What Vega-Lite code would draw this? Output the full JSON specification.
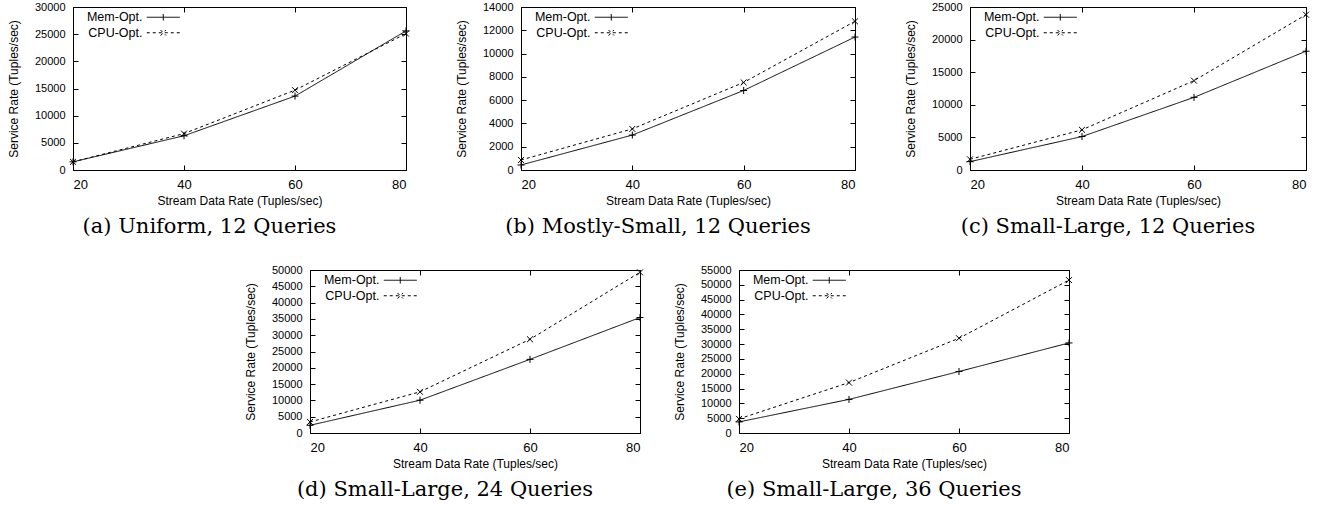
{
  "$schema": "https://vega.github.io/schema/vega-lite/v6.json",
  "padding": {"left": 6, "top": 0, "right": 0, "bottom": 0},
  "background": "white",
  "data": {"values": [
    {"panel": "a", "series": "Mem-Opt.", "rate": 20, "value": 1500},
    {"panel": "a", "series": "Mem-Opt.", "rate": 40, "value": 6300},
    {"panel": "a", "series": "Mem-Opt.", "rate": 60, "value": 13600},
    {"panel": "a", "series": "Mem-Opt.", "rate": 80, "value": 25600},
    {"panel": "a", "series": "CPU-Opt.", "rate": 20, "value": 1500},
    {"panel": "a", "series": "CPU-Opt.", "rate": 40, "value": 6700},
    {"panel": "a", "series": "CPU-Opt.", "rate": 60, "value": 14700},
    {"panel": "a", "series": "CPU-Opt.", "rate": 80, "value": 25100},
    {"panel": "b", "series": "Mem-Opt.", "rate": 20, "value": 430},
    {"panel": "b", "series": "Mem-Opt.", "rate": 40, "value": 3000},
    {"panel": "b", "series": "Mem-Opt.", "rate": 60, "value": 6830},
    {"panel": "b", "series": "Mem-Opt.", "rate": 80, "value": 11420},
    {"panel": "b", "series": "CPU-Opt.", "rate": 20, "value": 860},
    {"panel": "b", "series": "CPU-Opt.", "rate": 40, "value": 3530},
    {"panel": "b", "series": "CPU-Opt.", "rate": 60, "value": 7520},
    {"panel": "b", "series": "CPU-Opt.", "rate": 80, "value": 12770},
    {"panel": "c", "series": "Mem-Opt.", "rate": 20, "value": 1280},
    {"panel": "c", "series": "Mem-Opt.", "rate": 40, "value": 5130},
    {"panel": "c", "series": "Mem-Opt.", "rate": 60, "value": 11140},
    {"panel": "c", "series": "Mem-Opt.", "rate": 80, "value": 18220},
    {"panel": "c", "series": "CPU-Opt.", "rate": 20, "value": 1640},
    {"panel": "c", "series": "CPU-Opt.", "rate": 40, "value": 6160},
    {"panel": "c", "series": "CPU-Opt.", "rate": 60, "value": 13700},
    {"panel": "c", "series": "CPU-Opt.", "rate": 80, "value": 23820},
    {"panel": "d", "series": "Mem-Opt.", "rate": 20, "value": 2360},
    {"panel": "d", "series": "Mem-Opt.", "rate": 40, "value": 10060},
    {"panel": "d", "series": "Mem-Opt.", "rate": 60, "value": 22590},
    {"panel": "d", "series": "Mem-Opt.", "rate": 80, "value": 35420},
    {"panel": "d", "series": "CPU-Opt.", "rate": 20, "value": 3390},
    {"panel": "d", "series": "CPU-Opt.", "rate": 40, "value": 12630},
    {"panel": "d", "series": "CPU-Opt.", "rate": 60, "value": 28750},
    {"panel": "d", "series": "CPU-Opt.", "rate": 80, "value": 49280},
    {"panel": "e", "series": "Mem-Opt.", "rate": 20, "value": 3740},
    {"panel": "e", "series": "Mem-Opt.", "rate": 40, "value": 11340},
    {"panel": "e", "series": "Mem-Opt.", "rate": 60, "value": 20750},
    {"panel": "e", "series": "Mem-Opt.", "rate": 80, "value": 30390},
    {"panel": "e", "series": "CPU-Opt.", "rate": 20, "value": 4760},
    {"panel": "e", "series": "CPU-Opt.", "rate": 40, "value": 17010},
    {"panel": "e", "series": "CPU-Opt.", "rate": 60, "value": 31980},
    {"panel": "e", "series": "CPU-Opt.", "rate": 80, "value": 51600}
  ]},
  "vconcat": [
    {
      "hconcat": [
        {
          "width": 333, "height": 163,
          "title": {"text": "(a) Uniform, 12 Queries"},
          "transform": [{"filter": "datum.panel === 'a'"}],
          "layer": [
            {"mark": {"type": "line", "color": "black", "strokeWidth": 1},
             "encoding": {
               "x": {"field": "rate", "type": "quantitative", "scale": {"domain": [20, 80], "nice": false, "zero": false}, "axis": {"values": [20, 40, 60, 80], "title": "Stream Data Rate (Tuples/sec)"}},
               "y": {"field": "value", "type": "quantitative", "scale": {"domain": [0, 30000], "nice": false}, "axis": {"values": [0, 5000, 10000, 15000, 20000, 25000, 30000], "title": "Service Rate (Tuples/sec)", "orient": "left"}},
               "strokeDash": {"field": "series", "type": "nominal", "scale": {"domain": ["Mem-Opt.", "CPU-Opt."], "range": [[1, 0], [3, 3]]},
                 "legend": {"encode": {"symbols": {"update": {"shape": [{"test": "datum.value === 'Mem-Opt.'", "value": "M-3,0H3M0,-0.6V0.6"}, {"value": "M-3,0H3M-0.5,-0.5L0.5,0.5M-0.5,0.5L0.5,-0.5"}]}}}}}
             }},
            {"transform": [{"filter": "datum.series === 'Mem-Opt.'"}],
             "mark": {"type": "point", "filled": false, "stroke": "black", "strokeWidth": 1, "size": 49, "opacity": 1, "shape": "M-1,0H1M0,-1V1"},
             "encoding": {
               "x": {"field": "rate", "type": "quantitative", "axis": null},
               "y": {"field": "value", "type": "quantitative", "axis": null}
             }},
            {"transform": [{"filter": "datum.series === 'CPU-Opt.'"}],
             "mark": {"type": "point", "filled": false, "stroke": "black", "strokeWidth": 1, "size": 49, "opacity": 1, "shape": "M-0.85,-0.85L0.85,0.85M-0.85,0.85L0.85,-0.85"},
             "encoding": {
               "x": {"field": "rate", "type": "quantitative", "axis": null},
               "y": {"field": "value", "type": "quantitative", "axis": null}
             }},
            {"mark": {"type": "point", "opacity": 0},
             "encoding": {
               "x": {"field": "rate", "type": "quantitative", "axis": {"orient": "top", "values": [20, 40, 60, 80], "labels": false, "title": null}},
               "y": {"field": "value", "type": "quantitative", "axis": {"orient": "right", "values": [0, 5000, 10000, 15000, 20000, 25000, 30000], "labels": false, "title": null}}
             }}
          ],
          "resolve": {"axis": {"x": "independent", "y": "independent"}}
        },
        {
          "width": 334, "height": 163,
          "title": {"text": "(b) Mostly-Small, 12 Queries"},
          "transform": [{"filter": "datum.panel === 'b'"}],
          "layer": [
            {"mark": {"type": "line", "color": "black", "strokeWidth": 1},
             "encoding": {
               "x": {"field": "rate", "type": "quantitative", "scale": {"domain": [20, 80], "nice": false, "zero": false}, "axis": {"values": [20, 40, 60, 80], "title": "Stream Data Rate (Tuples/sec)"}},
               "y": {"field": "value", "type": "quantitative", "scale": {"domain": [0, 14000], "nice": false}, "axis": {"values": [0, 2000, 4000, 6000, 8000, 10000, 12000, 14000], "title": "Service Rate (Tuples/sec)", "orient": "left"}},
               "strokeDash": {"field": "series", "type": "nominal", "scale": {"domain": ["Mem-Opt.", "CPU-Opt."], "range": [[1, 0], [3, 3]]},
                 "legend": {"encode": {"symbols": {"update": {"shape": [{"test": "datum.value === 'Mem-Opt.'", "value": "M-3,0H3M0,-0.6V0.6"}, {"value": "M-3,0H3M-0.5,-0.5L0.5,0.5M-0.5,0.5L0.5,-0.5"}]}}}}}
             }},
            {"transform": [{"filter": "datum.series === 'Mem-Opt.'"}],
             "mark": {"type": "point", "filled": false, "stroke": "black", "strokeWidth": 1, "size": 49, "opacity": 1, "shape": "M-1,0H1M0,-1V1"},
             "encoding": {
               "x": {"field": "rate", "type": "quantitative", "axis": null},
               "y": {"field": "value", "type": "quantitative", "axis": null}
             }},
            {"transform": [{"filter": "datum.series === 'CPU-Opt.'"}],
             "mark": {"type": "point", "filled": false, "stroke": "black", "strokeWidth": 1, "size": 49, "opacity": 1, "shape": "M-0.85,-0.85L0.85,0.85M-0.85,0.85L0.85,-0.85"},
             "encoding": {
               "x": {"field": "rate", "type": "quantitative", "axis": null},
               "y": {"field": "value", "type": "quantitative", "axis": null}
             }},
            {"mark": {"type": "point", "opacity": 0},
             "encoding": {
               "x": {"field": "rate", "type": "quantitative", "axis": {"orient": "top", "values": [20, 40, 60, 80], "labels": false, "title": null}},
               "y": {"field": "value", "type": "quantitative", "axis": {"orient": "right", "values": [0, 2000, 4000, 6000, 8000, 10000, 12000, 14000], "labels": false, "title": null}}
             }}
          ],
          "resolve": {"axis": {"x": "independent", "y": "independent"}}
        },
        {
          "width": 336, "height": 163,
          "title": {"text": "(c) Small-Large, 12 Queries"},
          "transform": [{"filter": "datum.panel === 'c'"}],
          "layer": [
            {"mark": {"type": "line", "color": "black", "strokeWidth": 1},
             "encoding": {
               "x": {"field": "rate", "type": "quantitative", "scale": {"domain": [20, 80], "nice": false, "zero": false}, "axis": {"values": [20, 40, 60, 80], "title": "Stream Data Rate (Tuples/sec)"}},
               "y": {"field": "value", "type": "quantitative", "scale": {"domain": [0, 25000], "nice": false}, "axis": {"values": [0, 5000, 10000, 15000, 20000, 25000], "title": "Service Rate (Tuples/sec)", "orient": "left"}},
               "strokeDash": {"field": "series", "type": "nominal", "scale": {"domain": ["Mem-Opt.", "CPU-Opt."], "range": [[1, 0], [3, 3]]},
                 "legend": {"encode": {"symbols": {"update": {"shape": [{"test": "datum.value === 'Mem-Opt.'", "value": "M-3,0H3M0,-0.6V0.6"}, {"value": "M-3,0H3M-0.5,-0.5L0.5,0.5M-0.5,0.5L0.5,-0.5"}]}}}}}
             }},
            {"transform": [{"filter": "datum.series === 'Mem-Opt.'"}],
             "mark": {"type": "point", "filled": false, "stroke": "black", "strokeWidth": 1, "size": 49, "opacity": 1, "shape": "M-1,0H1M0,-1V1"},
             "encoding": {
               "x": {"field": "rate", "type": "quantitative", "axis": null},
               "y": {"field": "value", "type": "quantitative", "axis": null}
             }},
            {"transform": [{"filter": "datum.series === 'CPU-Opt.'"}],
             "mark": {"type": "point", "filled": false, "stroke": "black", "strokeWidth": 1, "size": 49, "opacity": 1, "shape": "M-0.85,-0.85L0.85,0.85M-0.85,0.85L0.85,-0.85"},
             "encoding": {
               "x": {"field": "rate", "type": "quantitative", "axis": null},
               "y": {"field": "value", "type": "quantitative", "axis": null}
             }},
            {"mark": {"type": "point", "opacity": 0},
             "encoding": {
               "x": {"field": "rate", "type": "quantitative", "axis": {"orient": "top", "values": [20, 40, 60, 80], "labels": false, "title": null}},
               "y": {"field": "value", "type": "quantitative", "axis": {"orient": "right", "values": [0, 5000, 10000, 15000, 20000, 25000], "labels": false, "title": null}}
             }}
          ],
          "resolve": {"axis": {"x": "independent", "y": "independent"}}
        }
      ],
      "spacing": 115,
      "bounds": "flush",
      "resolve": {"scale": {"strokeDash": "independent"}, "legend": {"strokeDash": "independent"}}
    },
    {
      "hconcat": [
        {
          "width": 330, "height": 163,
          "title": {"text": "(d) Small-Large, 24 Queries"},
          "transform": [{"filter": "datum.panel === 'd'"}],
          "layer": [
            {"mark": {"type": "line", "color": "black", "strokeWidth": 1},
             "encoding": {
               "x": {"field": "rate", "type": "quantitative", "scale": {"domain": [20, 80], "nice": false, "zero": false}, "axis": {"values": [20, 40, 60, 80], "title": "Stream Data Rate (Tuples/sec)"}},
               "y": {"field": "value", "type": "quantitative", "scale": {"domain": [0, 50000], "nice": false}, "axis": {"values": [0, 5000, 10000, 15000, 20000, 25000, 30000, 35000, 40000, 45000, 50000], "title": "Service Rate (Tuples/sec)", "orient": "left"}},
               "strokeDash": {"field": "series", "type": "nominal", "scale": {"domain": ["Mem-Opt.", "CPU-Opt."], "range": [[1, 0], [3, 3]]},
                 "legend": {"encode": {"symbols": {"update": {"shape": [{"test": "datum.value === 'Mem-Opt.'", "value": "M-3,0H3M0,-0.6V0.6"}, {"value": "M-3,0H3M-0.5,-0.5L0.5,0.5M-0.5,0.5L0.5,-0.5"}]}}}}}
             }},
            {"transform": [{"filter": "datum.series === 'Mem-Opt.'"}],
             "mark": {"type": "point", "filled": false, "stroke": "black", "strokeWidth": 1, "size": 49, "opacity": 1, "shape": "M-1,0H1M0,-1V1"},
             "encoding": {
               "x": {"field": "rate", "type": "quantitative", "axis": null},
               "y": {"field": "value", "type": "quantitative", "axis": null}
             }},
            {"transform": [{"filter": "datum.series === 'CPU-Opt.'"}],
             "mark": {"type": "point", "filled": false, "stroke": "black", "strokeWidth": 1, "size": 49, "opacity": 1, "shape": "M-0.85,-0.85L0.85,0.85M-0.85,0.85L0.85,-0.85"},
             "encoding": {
               "x": {"field": "rate", "type": "quantitative", "axis": null},
               "y": {"field": "value", "type": "quantitative", "axis": null}
             }},
            {"mark": {"type": "point", "opacity": 0},
             "encoding": {
               "x": {"field": "rate", "type": "quantitative", "axis": {"orient": "top", "values": [20, 40, 60, 80], "labels": false, "title": null}},
               "y": {"field": "value", "type": "quantitative", "axis": {"orient": "right", "values": [0, 5000, 10000, 15000, 20000, 25000, 30000, 35000, 40000, 45000, 50000], "labels": false, "title": null}}
             }}
          ],
          "resolve": {"axis": {"x": "independent", "y": "independent"}}
        },
        {
          "width": 330, "height": 163,
          "title": {"text": "(e) Small-Large, 36 Queries"},
          "transform": [{"filter": "datum.panel === 'e'"}],
          "layer": [
            {"mark": {"type": "line", "color": "black", "strokeWidth": 1},
             "encoding": {
               "x": {"field": "rate", "type": "quantitative", "scale": {"domain": [20, 80], "nice": false, "zero": false}, "axis": {"values": [20, 40, 60, 80], "title": "Stream Data Rate (Tuples/sec)"}},
               "y": {"field": "value", "type": "quantitative", "scale": {"domain": [0, 55000], "nice": false}, "axis": {"values": [0, 5000, 10000, 15000, 20000, 25000, 30000, 35000, 40000, 45000, 50000, 55000], "title": "Service Rate (Tuples/sec)", "orient": "left"}},
               "strokeDash": {"field": "series", "type": "nominal", "scale": {"domain": ["Mem-Opt.", "CPU-Opt."], "range": [[1, 0], [3, 3]]},
                 "legend": {"encode": {"symbols": {"update": {"shape": [{"test": "datum.value === 'Mem-Opt.'", "value": "M-3,0H3M0,-0.6V0.6"}, {"value": "M-3,0H3M-0.5,-0.5L0.5,0.5M-0.5,0.5L0.5,-0.5"}]}}}}}
             }},
            {"transform": [{"filter": "datum.series === 'Mem-Opt.'"}],
             "mark": {"type": "point", "filled": false, "stroke": "black", "strokeWidth": 1, "size": 49, "opacity": 1, "shape": "M-1,0H1M0,-1V1"},
             "encoding": {
               "x": {"field": "rate", "type": "quantitative", "axis": null},
               "y": {"field": "value", "type": "quantitative", "axis": null}
             }},
            {"transform": [{"filter": "datum.series === 'CPU-Opt.'"}],
             "mark": {"type": "point", "filled": false, "stroke": "black", "strokeWidth": 1, "size": 49, "opacity": 1, "shape": "M-0.85,-0.85L0.85,0.85M-0.85,0.85L0.85,-0.85"},
             "encoding": {
               "x": {"field": "rate", "type": "quantitative", "axis": null},
               "y": {"field": "value", "type": "quantitative", "axis": null}
             }},
            {"mark": {"type": "point", "opacity": 0},
             "encoding": {
               "x": {"field": "rate", "type": "quantitative", "axis": {"orient": "top", "values": [20, 40, 60, 80], "labels": false, "title": null}},
               "y": {"field": "value", "type": "quantitative", "axis": {"orient": "right", "values": [0, 5000, 10000, 15000, 20000, 25000, 30000, 35000, 40000, 45000, 50000, 55000], "labels": false, "title": null}}
             }}
          ],
          "resolve": {"axis": {"x": "independent", "y": "independent"}}
        }
      ],
      "spacing": 99,
      "bounds": "flush",
      "resolve": {"scale": {"strokeDash": "independent"}, "legend": {"strokeDash": "independent"}}
    }
  ],
  "spacing": 25,
  "center": true,
  "resolve": {"scale": {"strokeDash": "independent"}, "legend": {"strokeDash": "independent"}},
  "config": {
    "view": {"stroke": "black", "strokeWidth": 1},
    "font": "Liberation Sans",
    "axis": {"domain": false, "grid": false, "tickColor": "black", "tickSize": -5, "labelPadding": 13, "labelColor": "black", "titleColor": "black", "titleFontWeight": "normal", "labelFont": "Liberation Sans", "titleFont": "Liberation Sans", "titleFontSize": 12, "format": "d"},
    "axisX": {"labelFontSize": 13, "titlePadding": 4},
    "axisY": {"labelFontSize": 11, "titlePadding": 14},
    "legend": {"orient": "none", "legendX": 84, "legendY": 4, "title": null, "labelAlign": "right", "labelOffset": -27, "symbolSize": 121, "symbolStrokeWidth": 1, "symbolStrokeColor": "black", "symbolFillColor": "transparent", "labelFontSize": 12.5, "labelColor": "black", "labelFont": "Liberation Sans", "rowPadding": 2.5},
    "title": {"orient": "bottom", "frame": "bounds", "anchor": "middle", "font": "DejaVu Serif", "fontSize": 21, "fontWeight": "normal", "color": "black", "offset": 10}
  }
}
